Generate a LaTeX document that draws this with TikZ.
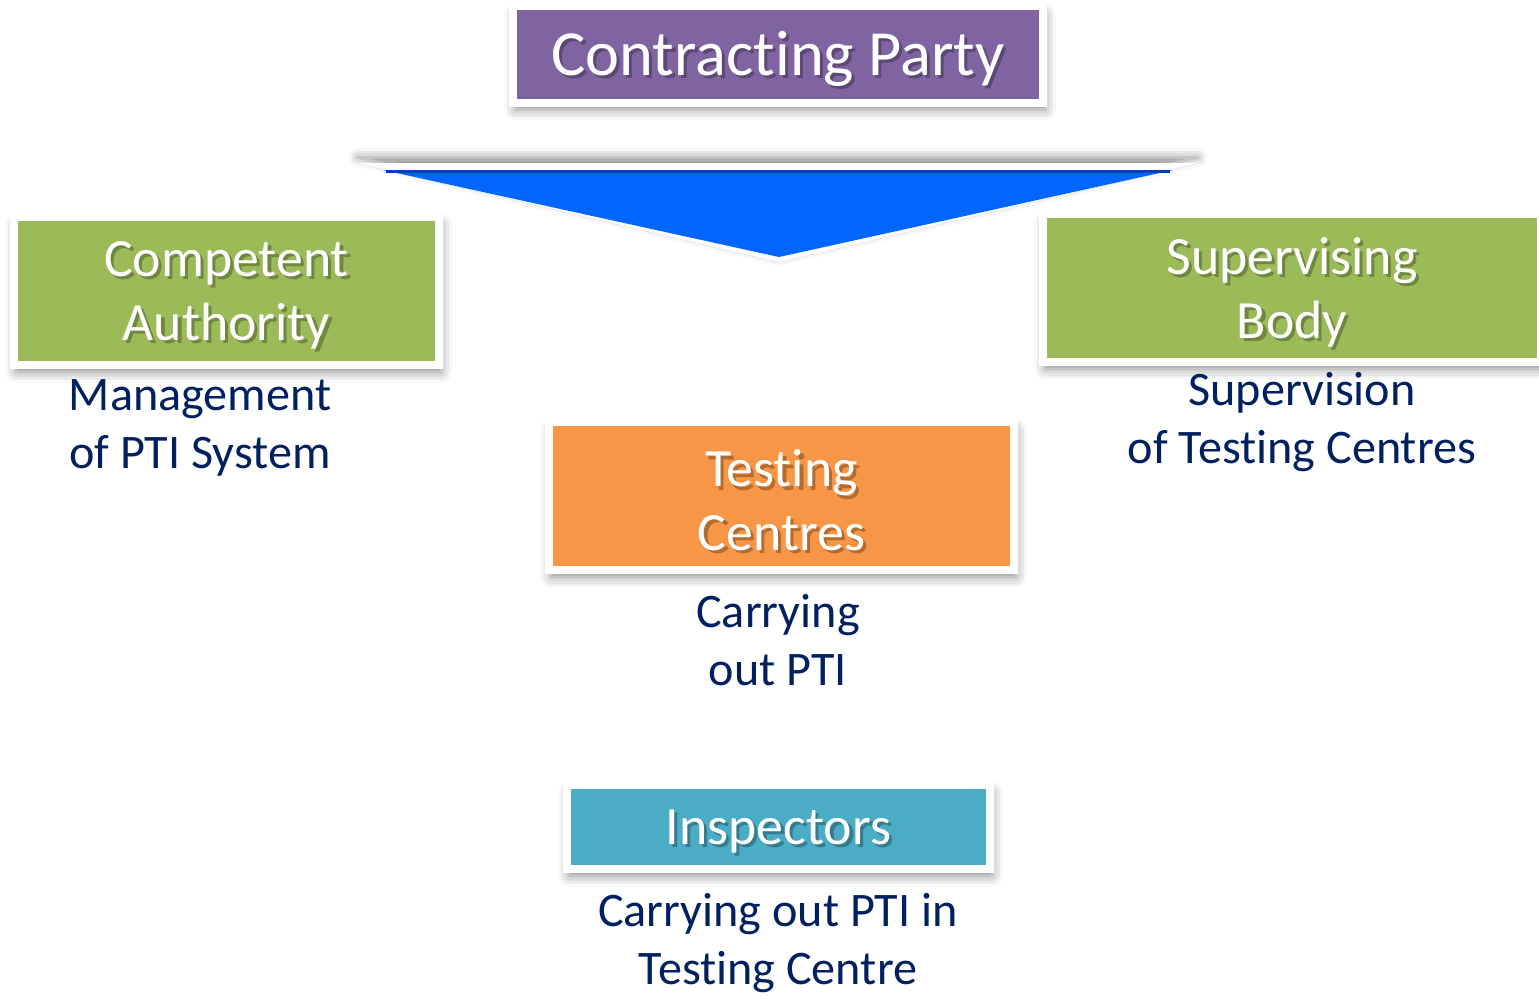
\documentclass[tikz,border=0pt]{standalone}
\usepackage{fontspec}
\setmainfont{Carlito}[Ligatures=NoCommon]
\usetikzlibrary{shadows.blur}

\definecolor{cpurple}{RGB}{128,100,162}
\definecolor{cgreen}{RGB}{155,187,89}
\definecolor{corange}{RGB}{247,150,70}
\definecolor{cteal}{RGB}{75,172,198}
\definecolor{cblue}{RGB}{0,102,255}
\definecolor{cdarkblue}{RGB}{0,60,190}
\definecolor{cnavy}{RGB}{0,32,96}
\colorlet{shcol}{black!50}

% white text with a soft shadow, set a little low in its box
\newcommand{\shtxt}[1]{\raisebox{-1.7pt}[\height][\depth]{\rlap{\kern0.9pt\raisebox{-0.9pt}{\textcolor{shcol}{#1}}}#1}}

\tikzset{
  rolebox/.style={fill=#1, draw=white, line width=0.08cm, inner sep=0pt, text=white, align=center,
    execute at begin node={\colorlet{shcol}{#1!72!black}},
    blur shadow={shadow xshift=0.6pt, shadow yshift=-2pt, shadow blur radius=3pt, shadow opacity=45}},
  roletitle/.style={font=\fontsize{15.3}{18.1}\selectfont},
  duty/.style={text=cnavy, align=center, font=\fontsize{13.7}{16.3}\selectfont}
}

\begin{document}
\begin{tikzpicture}[x=0.01cm, y=-0.01cm]
\useasboundingbox (0,0) rectangle (1539,999);

% downward arrow
\coordinate (arrL) at (358,163);
\coordinate (arrR) at (1198,163);
\coordinate (arrT) at (779,262);
\fill [white, blur shadow={shadow xshift=0pt, shadow yshift=1.6pt, shadow blur radius=2.6pt, shadow opacity=45}]
  (arrL) -- (arrR) -- (arrT) -- cycle;
\fill [cblue] (383,170) -- (1173,170) -- (779,257) -- cycle;
\draw [cdarkblue, line width=0.03cm] (386,171) -- (1170,171);

% role boxes
\node [rolebox=cpurple, minimum width=5.30cm, minimum height=0.96cm,
  font=\fontsize{18.3}{22}\selectfont] (party) at (778,54.5) {\shtxt{Contracting Party}};
\node [rolebox=cgreen, roletitle, minimum width=4.25cm, minimum height=1.48cm]
  (authority) at (226.5,291) {\shtxt{Competent}\\\shtxt{Authority}};
\node [rolebox=cgreen, roletitle, minimum width=4.98cm, minimum height=1.48cm]
  (supervisor) at (1292,288) {\shtxt{Supervising}\\\shtxt{Body}};
\node [rolebox=corange, roletitle, minimum width=4.65cm, minimum height=1.48cm]
  (centres) at (781.5,496) {\shtxt{Testing}\\\shtxt{Centres}};
\node [rolebox=cteal, roletitle, minimum width=4.23cm, minimum height=0.84cm]
  (inspectors) at (778.5,827) {\shtxt{Inspectors}};

% duties
\node [duty] (authduty) at (200,428) {Management\\of PTI System};
\node [duty] (supduty) at (1302,422) {Supervision\\of Testing Centres};
\node [duty] (centduty) at (778,640) {Carrying\\out PTI};
\node [duty] (inspduty) at (778,943) {Carrying out PTI in\\Testing Centre};
\end{tikzpicture}
\end{document}
